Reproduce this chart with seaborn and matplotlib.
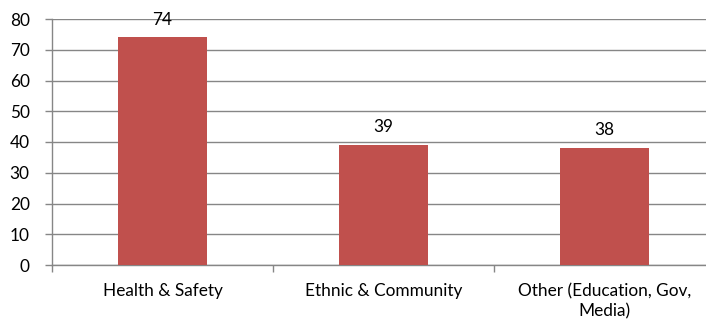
import matplotlib
matplotlib.use("Agg")
import matplotlib.pyplot as plt
import seaborn as sns
import pandas as pd

categories = ["Health & Safety", "Ethnic & Community", "Other (Education, Gov,\nMedia)"]
values = [74, 39, 38]
y_ticks = [0, 10, 20, 30, 40, 50, 60, 70, 80]

sns.set_theme(style="white")
plt.rcParams["font.family"] = ["Lato", "DejaVu Sans"]

df = pd.DataFrame({"category": categories, "value": values})

fig = plt.figure(figsize=(7.06, 3.24), dpi=100)
W, H = 706, 324
ax = fig.add_axes([52 / W, (H - 265) / H, 663 / W, 246 / H])

sns.barplot(data=df, x="category", y="value", color="#C0504D", saturation=1,
            width=0.4, ax=ax, zorder=3, edgecolor="none")

ax.set_ylim(0, 80)
ax.set_xlim(-0.5, 2.5)
ax.set_yticks(y_ticks)
ax.set_yticklabels([str(t) for t in y_ticks], fontsize=12.4, color="#000000")
ax.yaxis.grid(True, color="#868686", linewidth=1, zorder=0)
ax.set_axisbelow(True)

ax.set_xticks([0, 1, 2])
ax.set_xticklabels(categories, fontsize=12.4, color="#000000", linespacing=1.35)
ax.set_xticks([-0.5, 0.5, 1.5, 2.5], minor=True)
ax.tick_params(axis="x", which="major", length=0, pad=13)
ax.tick_params(axis="x", which="minor", length=5, width=1, color="#868686", direction="out", bottom=True)
ax.tick_params(axis="y", which="major", length=5, width=1, color="#868686", direction="out", left=True, pad=11)

for s in ["top", "right"]:
    ax.spines[s].set_visible(False)
for s in ["left", "bottom"]:
    ax.spines[s].set_color("#868686")
    ax.spines[s].set_linewidth(1)

ax.set_xlabel("")
ax.set_ylabel("")

for c in ax.containers:
    ax.bar_label(c, labels=[str(v) for v in values], padding=7, fontsize=12.4, color="#000000")

fig.savefig("out.png", dpi=100)
